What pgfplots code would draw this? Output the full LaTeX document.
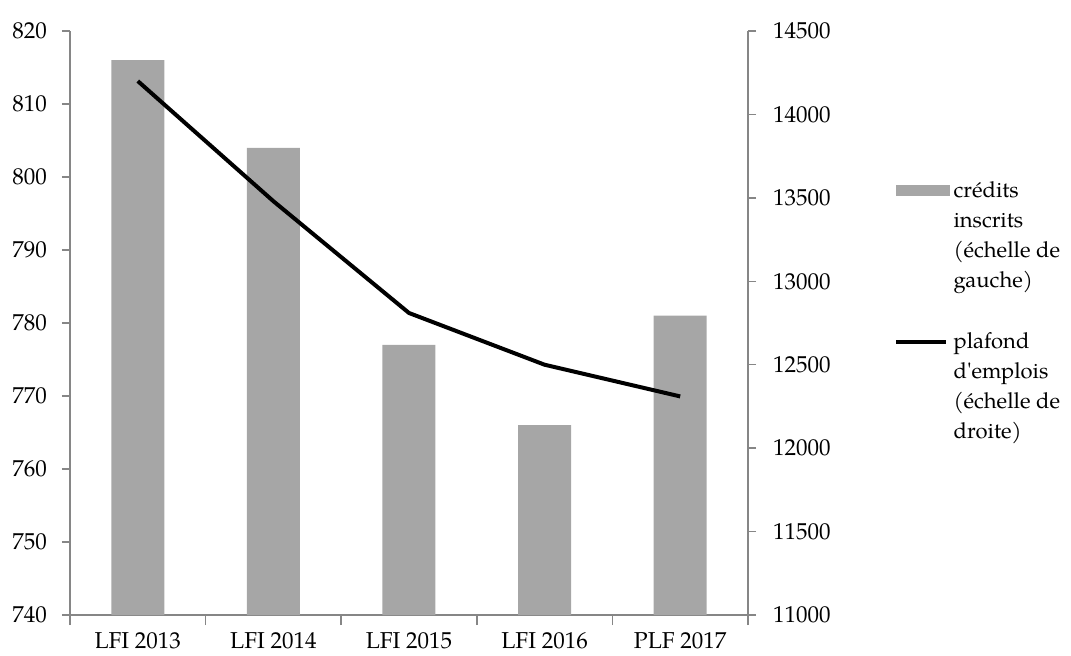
\documentclass[border=0pt]{standalone}
\usepackage{fontspec}
\setmainfont{TeX Gyre Pagella}
\usepackage{pgfplots}
\pgfplotsset{compat=1.18}
\definecolor{bargray}{HTML}{A6A6A6}
\definecolor{axgray}{HTML}{868686}
\begin{document}
\begin{tikzpicture}[font=\fontsize{11}{15}\selectfont]
\path[use as bounding box] (-35pt,-20pt) rectangle (500.5pt,307.5pt);
\pgfplotsset{
  common/.style={
    width=339pt, height=292pt, scale only axis,
    at={(0,0)}, anchor=south west,
    xmin=-0.5, xmax=4.5,
    axis line style={axgray, line width=0.75pt, -},
    tick style={axgray, line width=0.75pt},
    tick align=outside,
    major tick length=4pt,
    scaled y ticks=false,
    /pgf/number format/assume math mode=true,
    /pgf/number format/1000 sep={},
    ticklabel style={font=\fontsize{11.5}{13}\selectfont, black},
  }
}
\begin{axis}[common,
  ymin=740, ymax=820, ytick={740,750,...,820},
  axis x line*=bottom, axis y line*=left,
  xtick={0,1,2,3,4},
  xticklabels={LFI 2013, LFI 2014, LFI 2015, LFI 2016, PLF 2017},
  major x tick style={draw=none},
  minor xtick={-0.5,0.5,1.5,2.5,3.5,4.5},
  minor tick length=5pt,
  ybar, bar width=26.5pt,
  yticklabel style={xshift=-4pt},
  xticklabel style={yshift=-1pt},
]
\addplot[fill=bargray, draw=none] coordinates {(0,816) (1,804) (2,777) (3,766) (4,781)};
\end{axis}
\begin{axis}[common,
  ymin=11000, ymax=14500, ytick={11000,11500,...,14500},
  axis y line*=right, axis x line=none,
  yticklabel style={xshift=5pt},
  legend style={draw=none, fill=none, at={(axis description cs:1.215,0.75)}, anchor=north west,
     cells={align=left, anchor=west}, row sep=17pt, inner sep=0pt},
  legend cell align=left,
]
\addlegendimage{legend image code/.code={\path[draw=none,fill=none] (0pt,-25pt) -- (0pt,25pt); \fill[bargray] (0pt,20pt) rectangle (26.5pt,25pt);}}
\addlegendentry{crédits\\inscrits\\(échelle de\\gauche)}
\addplot[black, line width=2pt, line join=round,
  legend image code/.code={\path[draw=none,fill=none] (0pt,-25pt) -- (0pt,25pt); \draw[black, line width=2pt] (0pt,22.5pt) -- (25pt,22.5pt);}]
  coordinates {(0,14200) (1,13480) (2,12810) (3,12500) (4,12310)};
\addlegendentry{plafond\\d\textquotesingle emplois\\(échelle de\\droite)}
\end{axis}
\end{tikzpicture}
\end{document}
